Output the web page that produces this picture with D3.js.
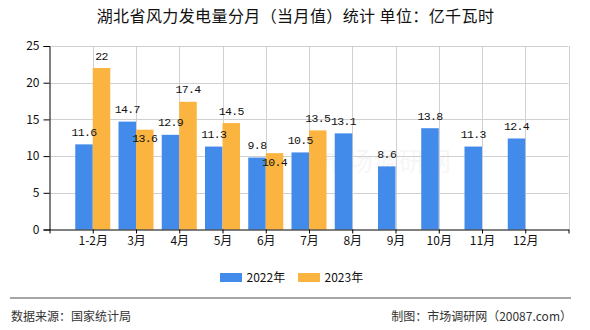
<!DOCTYPE html>
<html>
<head>
<meta charset="utf-8">
<script src="https://cdn.jsdelivr.net/npm/d3@7/dist/d3.min.js"></script>
<style>
  html, body { margin: 0; padding: 0; background: #fff; }
  svg { display: block; }
</style>
</head>
<body>
<svg id="chart" width="590" height="330"></svg>
<script>
const title = "湖北省风力发电量分月（当月值）统计 单位：亿千瓦时";
const categories = ["1-2月", "3月", "4月", "5月", "6月", "7月", "8月", "9月", "10月", "11月", "12月"];
const values2022 = [11.6, 14.7, 12.9, 11.3, 9.8, 10.5, 13.1, 8.6, 13.8, 11.3, 12.4];
const values2023 = [22, 13.6, 17.4, 14.5, 10.4, 13.5];
const seriesNames = ["2022年", "2023年"];
const yTicks = [0, 5, 10, 15, 20, 25];
const sourceText = "数据来源：国家统计局";
const creditText = "制图：市场调研网（20087.com）";

const colors = ["#428bea", "#fbb440"];
const cjk = "'Noto Sans CJK SC', 'Noto Sans', sans-serif";
const mono = "'Liberation Mono', 'DejaVu Sans Mono', monospace";

const svg = d3.select("#chart");
const plotLeft = 49.5, plotRight = 568.5, plotTop = 46, plotBottom = 229.5;

const x = d3.scalePoint().domain(["__s", ...categories, "__e"]).range([plotLeft, plotRight]);
const y = d3.scaleLinear().domain([0, 25]).range([plotBottom, plotTop]);
const barW = 17.5;

// title
svg.append("text").attr("x", 295.5).attr("y", 22).attr("text-anchor", "middle")
  .attr("font-family", cjk).attr("font-size", 16).attr("letter-spacing", 0.4)
  .attr("fill", "#111").text(title);

// watermark (very faint)
svg.append("text").attr("x", 386).attr("y", 171).attr("text-anchor", "middle")
  .attr("font-family", cjk).attr("font-size", 26).attr("fill", "#000").attr("opacity", 0.03)
  .text("市场调研网");

// horizontal grid
svg.append("g").selectAll("line").data(yTicks.filter(d => d > 0)).join("line")
  .attr("x1", plotLeft).attr("x2", plotRight).attr("y1", d => Math.round(y(d)) + 0.5).attr("y2", d => Math.round(y(d)) + 0.5)
  .attr("stroke", "#d0d0d0").attr("stroke-width", 1);
// vertical grid
svg.append("g").selectAll("line").data(x.domain().slice(1)).join("line")
  .attr("x1", d => Math.round(x(d)) + 0.5).attr("x2", d => Math.round(x(d)) + 0.5)
  .attr("y1", plotTop).attr("y2", plotBottom)
  .attr("stroke", "#d0d0d0").attr("stroke-width", 1);

// bars
const bars = [];
categories.forEach((c, i) => {
  if (values2022[i] != null) bars.push({ c, v: values2022[i], s: 0 });
  if (values2023[i] != null) bars.push({ c, v: values2023[i], s: 1 });
});
svg.append("g").selectAll("rect").data(bars).join("rect")
  .attr("x", d => x(d.c) + (d.s === 0 ? -barW : 0))
  .attr("width", barW)
  .attr("y", d => y(d.v))
  .attr("height", d => y(0) - y(d.v))
  .attr("fill", d => colors[d.s]);

// labels with simple collision avoidance
const labels = bars.map(d => ({ ...d, lx: x(d.c) + (d.s === 0 ? -barW / 2 : barW / 2), ly: y(d.v) - 12.5 }));
labels.filter(d => d.s === 1).forEach(d => {
  const other = labels.find(o => o.s === 0 && o.c === d.c);
  if (other && Math.abs(other.ly - d.ly) < 13) d.ly = y(d.v) + 8.5;
});
svg.append("g").selectAll("text").data(labels).join("text")
  .attr("x", d => d.lx).attr("y", d => d.ly).attr("dy", "0.35em")
  .attr("text-anchor", "middle").attr("font-family", mono).attr("font-size", 11.5)
  .attr("letter-spacing", -0.6).attr("fill", "#111")
  .text(d => d.v);

// y axis
const yAxis = svg.append("g").attr("transform", `translate(${plotLeft},0)`)
  .call(d3.axisLeft(y).tickValues(yTicks).tickSize(6).tickPadding(4));
yAxis.selectAll("text").attr("font-family", cjk).attr("font-size", 12).attr("fill", "#111");
yAxis.selectAll("line, path").attr("stroke", "#000");

// x axis
const xAxis = svg.append("g").attr("transform", `translate(0,${plotBottom})`)
  .call(d3.axisBottom(x).tickSize(4).tickSizeOuter(0).tickPadding(3).tickFormat(d => d.startsWith("__") ? "" : d));
xAxis.selectAll("text").attr("font-family", cjk).attr("font-size", 12).attr("fill", "#111");
xAxis.selectAll("line, path").attr("stroke", "#000");

// legend
const legendX = [220, 298];
const lg = svg.append("g").selectAll("g").data(seriesNames).join("g")
  .attr("transform", (d, i) => `translate(${legendX[i]},273)`);
lg.append("rect").attr("width", 22).attr("height", 9).attr("fill", (d, i) => colors[i]);
lg.append("text").attr("x", 26.5).attr("y", 4.5).attr("dy", "0.35em")
  .attr("font-family", cjk).attr("font-size", 12).attr("fill", "#111").text(d => d);

// footer
svg.append("line").attr("x1", 10).attr("x2", 571).attr("y1", 298).attr("y2", 298)
  .attr("stroke", "#888").attr("stroke-width", 1.5);
svg.append("text").attr("x", 11).attr("y", 317).attr("dy", "0.35em")
  .attr("font-family", cjk).attr("font-size", 12).attr("fill", "#333").text(sourceText);
svg.append("text").attr("x", 572).attr("y", 317).attr("dy", "0.35em").attr("text-anchor", "end")
  .attr("font-family", cjk).attr("font-size", 12).attr("fill", "#333").text(creditText);
</script>
</body>
</html>
